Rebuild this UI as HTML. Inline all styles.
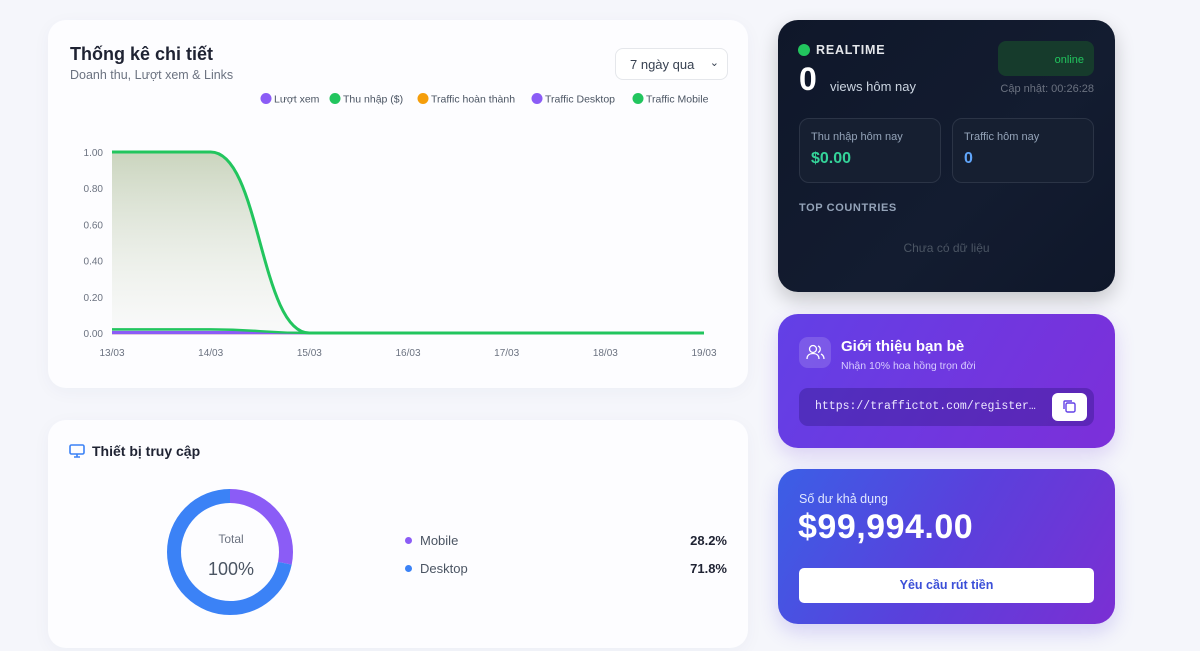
<!DOCTYPE html>
<html><head><meta charset="utf-8">
<style>
*{box-sizing:border-box;margin:0;padding:0}
body{width:1200px;height:651px;overflow:hidden;background:#f5f6fb;font-family:"Liberation Sans","Noto Sans CJK SC",sans-serif;position:relative}
.card{position:absolute;background:#fdfdff;border-radius:18px;box-shadow:0 4px 18px rgba(30,40,90,.04)}
.abs{position:absolute}
</style></head><body>
<div class="card" style="left:48px;top:20px;width:700px;height:368px"></div>
<div class="abs" style="left:70px;top:44px;font-size:18px;font-weight:bold;color:#1f2333">Thống kê chi tiết</div>
<div class="abs" style="left:70px;top:68px;font-size:12.5px;color:#6b7280">Doanh thu, Lượt xem &amp; Links</div>
<div class="abs" style="left:615px;top:48px;width:113px;height:32px;border:1px solid #e5e7eb;border-radius:8px;background:#fff;font-size:13px;color:#374151;padding:8px 0 0 14px">7 ngày qua<span style="position:absolute;right:8px;top:7px;font-size:11px">&#8964;</span></div>
<svg class="abs" style="left:0;top:0" width="760" height="400" id="chart">
<defs><linearGradient id="gf" x1="0" y1="0" x2="0" y2="1"><stop offset="0" stop-color="#b9c7a8" stop-opacity=".75"/><stop offset="1" stop-color="#e8ece4" stop-opacity=".2"/></linearGradient></defs>
</svg>
<div class="card" style="left:48px;top:420px;width:700px;height:228px"></div>
<svg class="abs" style="left:69px;top:444px" width="16" height="14"><rect x="1" y="1" width="14" height="9" rx="1.5" fill="none" stroke="#3b82f6" stroke-width="1.6"/><path d="M5 13h6M8 10v3" stroke="#3b82f6" stroke-width="1.6"/></svg>
<div class="abs" style="left:92px;top:443px;font-size:14px;font-weight:bold;color:#1f2333">Thiết bị truy cập</div>
<svg class="abs" style="left:0;top:0" width="760" height="651" id="donut"></svg>
<div class="abs" style="left:200px;top:532px;width:62px;text-align:center;font-size:12px;color:#6b7280">Total</div>
<div class="abs" style="left:195px;top:559px;width:72px;text-align:center;font-size:18px;color:#4b5563">100%</div>
<div class="abs" style="left:405px;top:533px;font-size:13px;color:#4b5563"><span style="display:inline-block;width:7px;height:7px;border-radius:50%;background:#8b5cf6;margin-right:8px;vertical-align:1px"></span>Mobile</div>
<div class="abs" style="left:660px;top:533px;width:67px;text-align:right;font-size:13px;font-weight:bold;color:#1f2333">28.2%</div>
<div class="abs" style="left:405px;top:561px;font-size:13px;color:#4b5563"><span style="display:inline-block;width:7px;height:7px;border-radius:50%;background:#3b82f6;margin-right:8px;vertical-align:1px"></span>Desktop</div>
<div class="abs" style="left:660px;top:561px;width:67px;text-align:right;font-size:13px;font-weight:bold;color:#1f2333">71.8%</div>

<div class="abs" style="left:778px;top:20px;width:337px;height:272px;border-radius:20px;background:linear-gradient(135deg,#0f172a,#131c30 60%,#0f172a);box-shadow:0 8px 20px rgba(0,0,0,.2)">
<div class="abs" style="left:20px;top:24px;width:12px;height:12px;border-radius:50%;background:#22c55e"></div>
<div class="abs" style="left:38px;top:23px;font-size:12.5px;font-weight:bold;color:#e5e7eb;letter-spacing:.8px">REALTIME</div>
<div class="abs" style="left:21px;top:41px;font-size:32px;font-weight:bold;color:#fff">0</div>
<div class="abs" style="left:52px;top:59px;font-size:13px;color:#cbd5e1">views hôm nay</div>
<div class="abs" style="left:220px;top:21px;width:96px;height:35px;border-radius:8px;background:#163b2c;color:#22c55e;font-size:11px;text-align:right;padding:13px 10px 0 0">online</div>
<div class="abs" style="left:190px;top:63px;width:126px;text-align:right;font-size:11px;color:#6b7280">Cập nhật: 00:26:28</div>
<div class="abs" style="left:21px;top:98px;width:142px;height:65px;border-radius:10px;border:1px solid #2b3446;background:#161f31">
<div class="abs" style="left:11px;top:12px;font-size:11px;color:#94a3b8">Thu nhập hôm nay</div>
<div class="abs" style="left:11px;top:31px;font-size:16px;font-weight:bold;color:#34d399">$0.00</div></div>
<div class="abs" style="left:174px;top:98px;width:142px;height:65px;border-radius:10px;border:1px solid #2b3446;background:#161f31">
<div class="abs" style="left:11px;top:12px;font-size:11px;color:#94a3b8">Traffic hôm nay</div>
<div class="abs" style="left:11px;top:31px;font-size:16px;font-weight:bold;color:#60a5fa">0</div></div>
<div class="abs" style="left:21px;top:182px;font-size:11px;font-weight:bold;color:#94a3b8;letter-spacing:.6px">TOP COUNTRIES</div>
<div class="abs" style="left:0;top:221px;width:337px;text-align:center;font-size:12px;color:#4b5563">Chưa có dữ liệu</div>
</div>

<div class="abs" style="left:778px;top:314px;width:337px;height:134px;border-radius:20px;background:linear-gradient(120deg,#6240e6,#7c2fd9);box-shadow:0 8px 20px rgba(110,60,220,.2)">
<div class="abs" style="left:21px;top:23px;width:32px;height:31px;border-radius:9px;background:rgba(255,255,255,.15)"><svg width="32" height="31"><circle cx="14" cy="12" r="3.5" fill="none" stroke="#fff" stroke-width="1.3"/><path d="M8 22c0-4 3-5.5 6-5.5s6 1.5 6 5.5M19 9a3.5 3.5 0 0 1 0 6.5M22 17c2 1 3 2.5 3 5" fill="none" stroke="#fff" stroke-width="1.3"/></svg></div>
<div class="abs" style="left:63px;top:24px;font-size:15px;font-weight:bold;color:#fff">Giới thiệu bạn bè</div>
<div class="abs" style="left:63px;top:46px;font-size:10.5px;color:#d8ccff">Nhận 10% hoa hồng trọn đời</div>
<div class="abs" style="left:21px;top:74px;width:295px;height:38px;border-radius:9px;background:rgba(40,20,120,.35);font-family:'Liberation Mono',monospace;font-size:11.5px;color:#ece7ff;padding:12px 0 0 16px">https://traffictot.com/register…</div>
<div class="abs" style="left:274px;top:79px;width:35px;height:28px;border-radius:6px;background:#fff"><svg width="35" height="28"><rect x="14" y="10" width="9" height="9" rx="1.5" fill="none" stroke="#6240e6" stroke-width="1.4"/><path d="M12 16V9a1 1 0 0 1 1-1h7" fill="none" stroke="#6240e6" stroke-width="1.4"/></svg></div>
</div>

<div class="abs" style="left:778px;top:469px;width:337px;height:155px;border-radius:20px;background:linear-gradient(120deg,#3b5fe6,#5a40dc 50%,#7b2fd3);box-shadow:0 8px 20px rgba(80,60,220,.2)">
<div class="abs" style="left:21px;top:23px;font-size:12.5px;color:#e0e7ff">Số dư khả dụng</div>
<div class="abs" style="left:20px;top:39px;font-size:34px;font-weight:bold;color:#fff;letter-spacing:.5px">$99,994.00</div>
<div class="abs" style="left:21px;top:99px;width:295px;height:35px;border-radius:5px;background:#fff;text-align:center;font-size:12.5px;font-weight:bold;color:#3b4fd8;padding-top:10px">Yêu cầu rút tiền</div>
</div>

<script>
const categories=["13/03","14/03","15/03","16/03","17/03","18/03","19/03"];
const yTicks=[0,0.2,0.4,0.6,0.8,1.0];
const seriesNames=["Lượt xem","Thu nhập ($)","Traffic hoàn thành","Traffic Desktop","Traffic Mobile"];
const seriesColors=["#8b5cf6","#22c55e","#f59e0b","#8b5cf6","#22c55e"];
const luotXem=[0.005,0.005,0,0,0,0,0];
const thuNhap=[1,1,0,0,0,0,0];
const trafficHoanThanh=[0,0,0,0,0,0,0];
const trafficDesktop=[0,0,0,0,0,0,0];
const trafficMobile=[0.02,0.02,0,0,0,0,0];
const deviceLabels=["Mobile","Desktop"];
const deviceValues=[28.2,71.8];
const deviceColors=["#8b5cf6","#3b82f6"];

const NS="http://www.w3.org/2000/svg";
const svg=document.getElementById('chart');
const X0=112,X1=704,Y0=333,Y1=152;
const xs=i=>X0+(X1-X0)*i/(categories.length-1);
const ys=v=>Y0-(Y0-Y1)*v/1.0;
function mk(tag,attrs,parent){const e=document.createElementNS(NS,tag);for(const k in attrs)e.setAttribute(k,attrs[k]);parent.appendChild(e);return e;}
yTicks.forEach(t=>{const e=mk('text',{x:103,y:ys(t)+4,'text-anchor':'end','font-size':10,fill:'#6b7280'},svg);e.textContent=t.toFixed(2);

});
categories.forEach((c,i)=>{const e=mk('text',{x:xs(i),y:356,'text-anchor':'middle','font-size':10,fill:'#6b7280'},svg);e.textContent=c;

});
function pathD(vals){let d=`M${xs(0)},${ys(vals[0])}`;for(let i=1;i<vals.length;i++){const xa=xs(i-1),xb=xs(i),h=(xb-xa)/2;d+=` C${xa+h},${ys(vals[i-1])} ${xb-h},${ys(vals[i])} ${xb},${ys(vals[i])}`;}return d;}
const all=[luotXem,thuNhap,trafficHoanThanh,trafficDesktop,trafficMobile];
const area=mk('path',{d:pathD(thuNhap)+` L${xs(thuNhap.length-1)},${Y0} L${xs(0)},${Y0} Z`,fill:'url(#gf)'},svg);


[2,3,0,4,1].forEach(k=>{const p=mk('path',{d:pathD(all[k]),fill:'none',stroke:seriesColors[k],'stroke-width':k==1?3:2.5},svg);

});
const lx=[261,330,418,532,633];
seriesNames.forEach((n,i)=>{const g=mk('g',{},svg);


mk('circle',{cx:lx[i]+5,cy:98.5,r:5.5,fill:seriesColors[i]},g);const t=mk('text',{x:lx[i]+13,y:102.5,'font-size':10.5,fill:'#4b5563'},g);t.textContent=n;});
const ds=document.getElementById('donut');const cx=230,cy=552,r=56,sw=14;const C=2*Math.PI*r;
let acc=0;const tot=deviceValues.reduce((a,b)=>a+b,0);
deviceValues.forEach((v,i)=>{const len=C*v/tot;const c=mk('circle',{cx,cy,r,fill:'none',stroke:deviceColors[i],'stroke-width':sw,'stroke-dasharray':`${len} ${C-len}`,'stroke-dashoffset':-acc,transform:`rotate(-90 ${cx} ${cy})`},ds);


acc+=len;});
</script>
</body></html>
